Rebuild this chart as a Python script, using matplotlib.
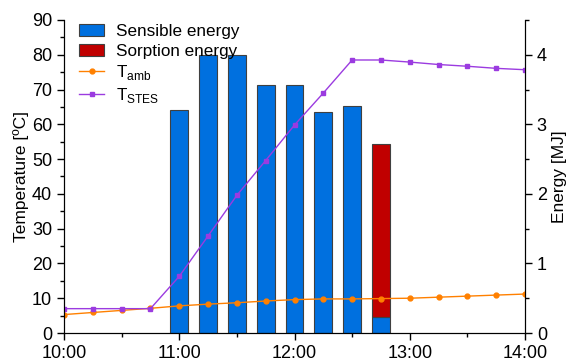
import matplotlib
matplotlib.use("Agg")
import matplotlib.pyplot as plt
from matplotlib.ticker import MultipleLocator

plt.rcParams['font.family'] = ['Liberation Sans', 'DejaVu Sans']
plt.rcParams['mathtext.fontset'] = 'custom'
plt.rcParams['mathtext.rm'] = 'Liberation Sans'

# time in hours
t_line = [10.0, 10.25, 10.5, 10.75, 11.0, 11.25, 11.5, 11.75, 12.0, 12.25, 12.5,
          12.75, 13.0, 13.25, 13.5, 13.75, 14.0]
T_amb = [5.3, 5.9, 6.5, 7.1, 7.8, 8.3, 8.7, 9.2, 9.6, 9.8, 9.8, 9.9, 10.0, 10.3,
         10.6, 10.9, 11.2]
T_stes = [7.0, 7.0, 7.0, 7.0, 16.3, 27.9, 39.6, 49.6, 59.8, 69.0, 78.5, 78.5,
          77.9, 77.2, 76.7, 76.1, 75.7]

t_bar = [11.0, 11.25, 11.5, 11.75, 12.0, 12.25, 12.5, 12.75]
E_sensible = [3.21, 3.99, 3.99, 3.57, 3.57, 3.18, 3.26, 0.235]
E_sorption = [0, 0, 0, 0, 0, 0, 0, 2.485]

xticks = [10, 11, 12, 13, 14]
xticklabels = ["10:00", "11:00", "12:00", "13:00", "14:00"]

fig = plt.figure(figsize=(5.66, 3.61), dpi=100)
ax = fig.add_axes([64/566, 1-333/361, (525-64)/566, (333-20)/361])
ax2 = ax.twinx()

bw = 0.155
ax2.bar(t_bar, E_sensible, width=bw, color='#0070DF', edgecolor='#404040',
        linewidth=0.8, label='Sensible energy')
ax2.bar(t_bar[-1:], E_sorption[-1:], width=bw, bottom=E_sensible[-1:],
        color='#C00000', edgecolor='#404040', linewidth=0.8, label='Sorption energy')

ax.plot(t_line, T_amb, color='#FF8000', marker='o', markersize=3.5, lw=1.0,
        label='T$_{\\rm amb}$')
ax.plot(t_line, T_stes, color='#9B3BE0', marker='s', markersize=3.2, lw=1.0,
        label='T$_{\\rm STES}$')

ax.set_zorder(ax2.get_zorder() + 1)
ax.patch.set_visible(False)

ax.set_xlim(10, 14)
ax.set_ylim(0, 90)
ax2.set_ylim(0, 4.5)
ax.set_xticks(xticks)
ax.set_xticklabels(xticklabels)
ax.xaxis.set_minor_locator(MultipleLocator(0.5))
ax.yaxis.set_major_locator(MultipleLocator(10))
ax.yaxis.set_minor_locator(MultipleLocator(5))
ax2.yaxis.set_major_locator(MultipleLocator(1))
ax2.yaxis.set_minor_locator(MultipleLocator(0.5))

for a in (ax, ax2):
    a.spines['top'].set_visible(False)
    a.tick_params(which='major', direction='out', length=5, width=1, labelsize=13)
    a.tick_params(which='minor', direction='out', length=3, width=1)

ax.set_ylabel('Temperature [ºC]', fontsize=12.5, labelpad=2)
ax2.set_ylabel('Energy [MJ]', fontsize=12.5, labelpad=4)

h1, l1 = ax2.get_legend_handles_labels()
h2, l2 = ax.get_legend_handles_labels()
ax.legend(h1 + h2, l1 + l2, loc='upper left', bbox_to_anchor=(0.0, 1.035),
          frameon=False, fontsize=12.3, handlelength=1.45, labelspacing=0.25,
          handletextpad=0.7)

fig.savefig('out.png', dpi=100)
